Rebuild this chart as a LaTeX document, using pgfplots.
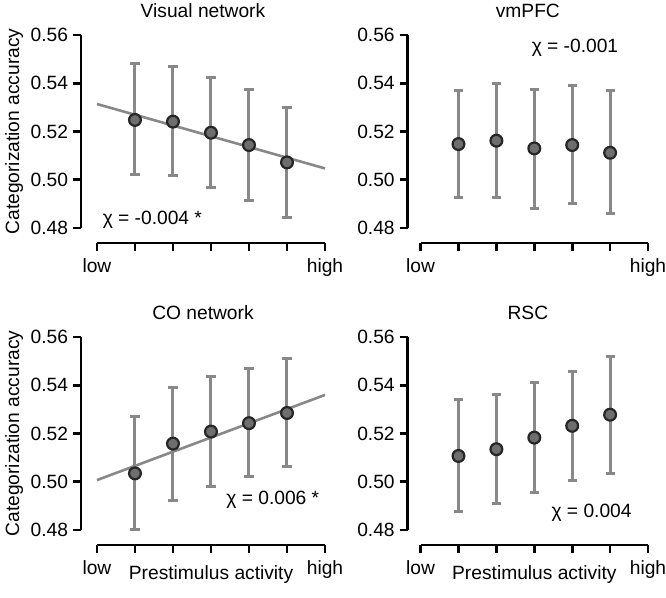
\documentclass[border=0pt]{standalone}
\usepackage{pgfplots}
\usepackage{pgfplotstable}
\pgfplotsset{compat=1.18}
\usepackage{fontspec}
\setmainfont{Liberation Sans}
\definecolor{bargray}{HTML}{888888}
\definecolor{dotgray}{HTML}{6E6E6E}
\newcommand{\ff}{\fontsize{19.2}{23}\selectfont}

\pgfplotstableread{
x y ep em
1 0.5248 0.0232 0.0225
2 0.5241 0.0228 0.0224
3 0.5195 0.0228 0.0226
4 0.5144 0.0231 0.0231
5 0.5072 0.0228 0.0228
}\tabVis
\pgfplotstableread{
x y ep em
1 0.5148 0.0224 0.0221
2 0.5162 0.0235 0.0235
3 0.5130 0.0245 0.0248
4 0.5144 0.0246 0.0244
5 0.5112 0.0256 0.0251
}\tabVm
\pgfplotstableread{
x y ep em
1 0.5035 0.0236 0.0234
2 0.5158 0.0234 0.0234
3 0.5208 0.0229 0.0229
4 0.5243 0.0225 0.0223
5 0.5285 0.0225 0.0220
}\tabCO
\pgfplotstableread{
x y ep em
1 0.5107 0.0232 0.0231
2 0.5135 0.0228 0.0223
3 0.5183 0.0228 0.0228
4 0.5232 0.0225 0.0225
5 0.5278 0.0242 0.0242
}\tabRSC

\pgfplotsset{
  panel/.style={
    scale only axis, height=208pt,
    xmax=6, ymin=0.4738, ymax=0.56,
    clip=false,
    axis x line=bottom, axis y line=left,
    axis line style={-, line width=2.6pt, black},
    y axis line style={shorten <=15pt},
    xtick={0,1,2,3,4,5,6}, xticklabels={low,,,,,,high},
    ytick={0.48,0.50,0.52,0.54,0.56},
    /pgf/number format/assume math mode=true,
    tick style={line width=2.6pt, black},
    major tick length=8pt, tick align=outside,
    tick label style={font=\ff},
    yticklabel style={xshift=-1.5pt, /pgf/number format/.cd, fixed, fixed zerofill, precision=2},
    xticklabel style={yshift=-4pt},
    label style={font=\ff},
    title style={font=\ff, at={(axis description cs:0.5,1)}, anchor=base, yshift=11.5pt},
  },
  leftpanel/.style={panel, width=244pt, xmin=-0.42, x axis line style={shorten <=16pt},
    ylabel style={at={(axis description cs:-0.254,0.536)}, anchor=base, rotate=0},
    xlabel style={at={(axis description cs:0.533,0)}, anchor=base, yshift=-34.6pt}},
  rightpanel/.style={panel, width=240.3pt, xmin=-0.34, x axis line style={shorten <=13pt},
    xlabel style={at={(axis description cs:0.527,0)}, anchor=base, yshift=-34.6pt}},
  fitline/.style={bargray, line width=2.6pt, no marks},
  ebars/.style={draw=none, mark=none, forget plot,
    error bars/.cd, y dir=both, y explicit,
    error bar style={draw=bargray, line width=3pt},
    error mark options={rotate=90, mark size=4.6pt, draw=bargray, line width=3pt}},
  dots/.style={only marks, mark=*, mark size=5.9pt,
    mark options={fill=dotgray, draw=black!85, line width=2.2pt}},
}

\begin{document}
\begin{tikzpicture}
\useasboundingbox (0,0) rectangle (666pt,-597pt);

% Top left
\begin{axis}[leftpanel, at={(81pt,-243pt)}, anchor=south west,
  title={Visual network}, ylabel={Categorization accuracy}]
\addplot[fitline] coordinates {(0,0.5314) (6,0.5047)};
\addplot[ebars] table[x=x,y=y,y error plus=ep,y error minus=em] {\tabVis};
\addplot[dots] table[x=x,y=y] {\tabVis};
\node[font=\ff, anchor=west] at (axis cs:0.06,0.4835) {χ = -0.004 *};
\end{axis}

% Top right
\begin{axis}[rightpanel, at={(407.7pt,-243pt)}, anchor=south west,
  title={vmPFC}]
\addplot[ebars] table[x=x,y=y,y error plus=ep,y error minus=em] {\tabVm};
\addplot[dots] table[x=x,y=y] {\tabVm};
\node[font=\ff, anchor=west] at (axis cs:2.84,0.5545) {χ = -0.001};
\end{axis}

% Bottom left
\begin{axis}[leftpanel, at={(81pt,-545pt)}, anchor=south west,
  title={CO network}, ylabel={Categorization accuracy}, xlabel={Prestimulus activity}]
\addplot[fitline] coordinates {(0,0.5007) (6,0.5360)};
\addplot[ebars] table[x=x,y=y,y error plus=ep,y error minus=em] {\tabCO};
\addplot[dots] table[x=x,y=y] {\tabCO};
\node[font=\ff, anchor=east] at (axis cs:5.94,0.4925) {χ = 0.006 *};
\end{axis}

% Bottom right
\begin{axis}[rightpanel, at={(407.7pt,-545pt)}, anchor=south west,
  title={RSC}, xlabel={Prestimulus activity}]
\addplot[ebars] table[x=x,y=y,y error plus=ep,y error minus=em] {\tabRSC};
\addplot[dots] table[x=x,y=y] {\tabRSC};
\node[font=\ff, anchor=east] at (axis cs:5.66,0.4873) {χ = 0.004};
\end{axis}
\end{tikzpicture}
\end{document}
